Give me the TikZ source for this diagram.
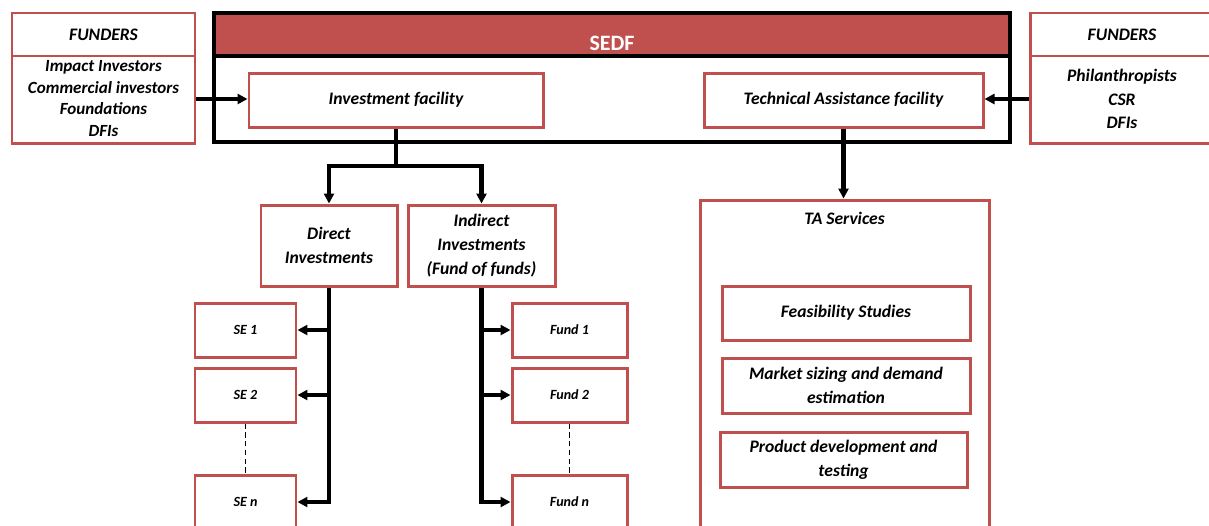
\documentclass[tikz,border=0pt]{standalone}
\usepackage{fontspec}
\setmainfont{Carlito}
\usetikzlibrary{arrows.meta}
\definecolor{redc}{HTML}{C0504D}
\tikzset{
  wh/.style 2 args={minimum width=#1*0.02cm, minimum height=#2*0.02cm},
  rbox/.style={draw=redc, line width=1.7pt, fill=white, inner sep=0pt, align=center,
    font=\bfseries\itshape\fontsize{10}{13.6}\selectfont},
  sbox/.style={rbox, font=\bfseries\itshape\fontsize{8}{10}\selectfont},
  txt/.style={inner sep=0pt, align=center, font=\bfseries\itshape\fontsize{10}{13.6}\selectfont},
  conn/.style={line width=2.3pt},
  arr/.style={line width=2.3pt, -{Triangle[length=0.2cm,width=0.2cm]}},
  dline/.style={line width=0.6pt, dashed, dash pattern=on 3pt off 2pt},
}
\begin{document}
\begin{tikzpicture}[x=0.02cm,y=-0.02cm]
\clip (0,0) rectangle (1209,525);
\fill[white] (0,0) rectangle (1209,525);

% Left funders
\node[rbox, wh={183}{130}] (lf) at (103.5,78) {};
\draw[draw=redc, line width=1.7pt] (12,56) -- (195,56);
\node[txt] (lfh) at (103.5,35) {FUNDERS};
\node[txt, font=\bfseries\itshape\fontsize{9.7}{12.3}\selectfont] (lfb) at (103.5,98.5) {Impact Investors\\Commercial investors\\Foundations\\DFIs};

% Right funders
\node[rbox, wh={185}{130}] (rf) at (1122.5,78) {};
\draw[draw=redc, line width=1.7pt] (1030,56) -- (1215,56);
\node[txt] (rfh) at (1122,35) {FUNDERS};
\node[txt, font=\bfseries\itshape\fontsize{10}{13.3}\selectfont] (rfb) at (1122,99) {Philanthropists\\CSR\\DFIs};

% SEDF
\fill[redc] (214,13) rectangle (1010,56);
\node[draw, line width=2.3pt, wh={796}{129}] (sedf) at (612,77.5) {};
\draw[line width=2.3pt] (214,56) -- (1010,56);
\node[inner sep=0pt, text=white, font=\bfseries\fontsize{12.5}{14}\selectfont] (sedft) at (612,43) {SEDF};

\node[rbox, wh={294}{54}] (inv) at (396,100) {Investment facility};
\node[rbox, wh={279}{54}] (ta) at (843.5,100) {Technical Assistance facility};

\draw[arr] (lf.east |- 0,99) -- (inv.west |- 0,99);
\draw[arr] (rf.west |- 0,99) -- (ta.east |- 0,99);

% Investment branch
\node[rbox, wh={136}{81}] (direct) at (329,245.5) {Direct\\Investments};
\node[rbox, wh={147}{81}] (indirect) at (481.5,245.5) {Indirect\\Investments\\(Fund of funds)};
\coordinate (j1) at (inv.south |- 0,166);
\draw[conn] (inv.south) -- (j1);
\draw[arr] (j1) -| (direct.north);
\draw[arr] (j1) -| (indirect.north);

\node[sbox, wh={101}{54}] (se1) at (245.5,330) {SE 1};
\node[sbox, wh={101}{54}] (se2) at (245.5,395) {SE 2};
\node[sbox, wh={101}{54}] (sen) at (245.5,502) {SE n};
\node[sbox, wh={115}{54}] (f1) at (569.5,330) {Fund 1};
\node[sbox, wh={115}{54}] (f2) at (569.5,395) {Fund 2};
\node[sbox, wh={115}{54}] (fn) at (569.5,502) {Fund n};

\draw[arr] (direct.south) |- (sen.east);
\draw[arr] (direct.south |- se1.east) -- (se1.east);
\draw[arr] (direct.south |- se2.east) -- (se2.east);
\draw[arr] (indirect.south) |- (fn.west);
\draw[arr] (indirect.south |- f1.west) -- (f1.west);
\draw[arr] (indirect.south |- f2.west) -- (f2.west);
\draw[dline] (se2.south) -- (sen.north);
\draw[dline] (f2.south) -- (fn.north);

% TA branch
\node[rbox, wh={289}{360}] (tas) at (844.5,380) {};
\node[txt] (tast) at (844.5,218) {TA Services};
\draw[arr] (ta.south) -- (ta.south |- tas.north);
\node[rbox, wh={248}{54}] (fs) at (846,313) {Feasibility Studies};
\node[rbox, wh={248}{55}] (ms) at (846,385.5) {Market sizing and demand\\estimation};
\node[rbox, wh={247}{55}] (pd) at (843.5,459.5) {Product development and\\testing};
\end{tikzpicture}
\end{document}
